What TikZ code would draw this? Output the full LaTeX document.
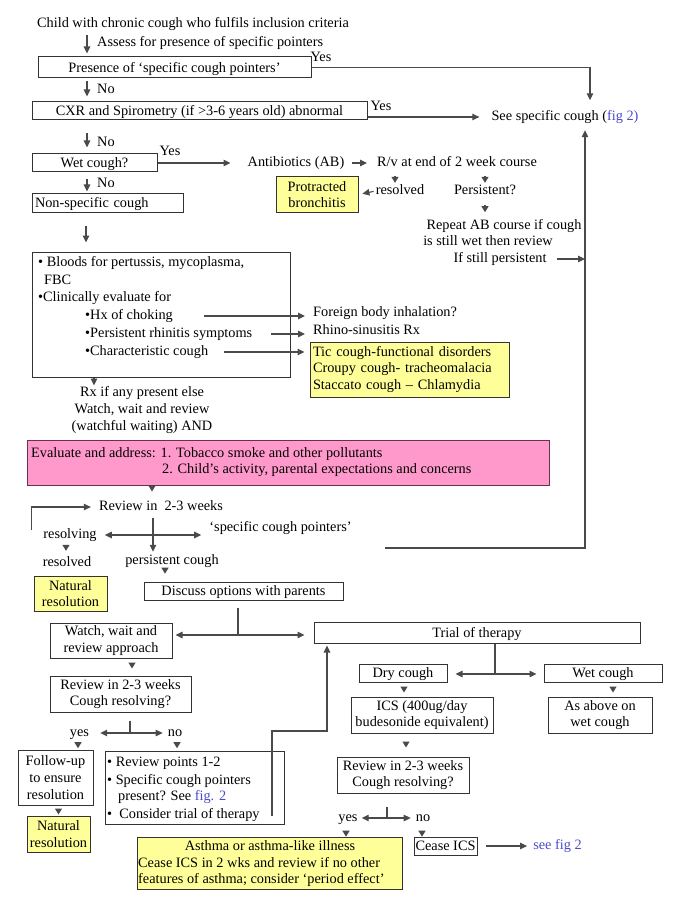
\documentclass[tikz,border=0pt]{standalone}
\usepackage{fontspec}
\setmainfont{Liberation Serif}
\usetikzlibrary{arrows.meta}
\definecolor{linec}{HTML}{4A4A4A}
\definecolor{boxc}{HTML}{333333}
\definecolor{yelc}{HTML}{FFFF99}
\definecolor{pinkc}{HTML}{FF99CC}
\definecolor{pinkb}{HTML}{6A3050}
\definecolor{bluec}{HTML}{4A4ACC}
\begin{document}
\begin{tikzpicture}[x=1pt,y=-1pt,
  font=\fontsize{14.3}{16.6}\selectfont,
  txt/.style={inner sep=0pt,text height=10pt,text depth=3pt},
  mtxt/.style={inner sep=0pt,align=center},
  bx/.style={draw=boxc,line width=1pt,inner sep=0pt,align=center},
  sbx/.style={bx,text height=11.5pt,text depth=2pt},
  ybx/.style={bx,fill=yelc},
  arr/.style={draw=linec,line width=1.1pt,-{Triangle[length=7pt,width=6.5pt]}},
  dbl/.style={draw=linec,line width=1.1pt,{Triangle[length=7pt,width=6.5pt]}-{Triangle[length=7pt,width=6.5pt]}},
  plainln/.style={draw=linec,line width=1.1pt},
  arrowtri/.style={draw=linec,line width=1.1pt,-{Triangle[length=6pt,width=7pt]}},
]
\useasboundingbox (0,0) rectangle (685,912);
\fill[white] (0,0) rectangle (685,912);

% ---------- top part ----------
\node[txt] (child) at (193,24) {Child with chronic cough who fulfils inclusion criteria};
\coordinate (colA) at (87,0);
\node[txt,anchor=west] (assess) at (97,43) {Assess for presence of specific pointers};
\node[sbx,minimum width=273,minimum height=21] (pres) at (174.5,67.5) {Presence of ‘specific cough pointers’};
\node[txt] (yes1) at (321,58) {Yes};
\node[txt,anchor=west] (no1) at (97,90) {No};
\node[sbx,minimum width=335,minimum height=18] (cxr) at (199.5,111) {CXR and Spirometry (if >3-6 years old) abnormal};
\node[txt] (yes2) at (381,107) {Yes};
\node[txt] (see) at (565,117) {See specific cough (\textcolor{bluec}{fig 2)}};
\node[txt,anchor=west] (no2) at (97,143) {No};
\node[sbx,minimum width=125,minimum height=18] (wet) at (94.5,163) {Wet cough?};
\node[txt] (yes3) at (170,152) {Yes};
\node[txt,anchor=west] (no3) at (97,184) {No};
\node[sbx,minimum width=151,minimum height=19,text width=145,align=left,inner xsep=3pt] (ns) at (107.5,202.5) {Non-specific cough};

\node[txt] (ab) at (296,163) {Antibiotics (AB)};
\node[txt,anchor=west] (rv) at (377,163) {R/v at end of 2 week course};
\node[ybx,minimum width=82,minimum height=35] (prot) at (317,194.5) {Protracted\\bronchitis};
\node[txt] (resd) at (400,191) {resolved};
\node[txt] (pers) at (485,191) {Persistent?};
\node[txt] (rep1) at (504,226) {Repeat AB course if cough};
\node[txt] (rep2) at (488,242) {is still wet then review};
\node[txt] (rep3) at (500,259) {If still persistent};

% ---------- bloods ----------
\node[bx,minimum width=258,minimum height=125] (bl) at (161,314.5) {};
\node[txt,anchor=west] (b1) at (38,263) {• Bloods for pertussis, mycoplasma,};
\node[txt,anchor=west] (b2) at (44,281) {FBC};
\node[txt,anchor=west] (b3) at (38,298) {•Clinically evaluate for};
\node[txt,anchor=west] (hx) at (85,316) {•Hx of choking};
\node[txt,anchor=west] (rh) at (85,334) {•Persistent rhinitis symptoms};
\node[txt,anchor=west] (cc) at (85,352) {•Characteristic cough};
\node[txt,anchor=west] (fb) at (313,313) {Foreign body inhalation?};
\node[txt,anchor=west] (rs) at (313,331) {Rhino-sinusitis Rx};
\node[ybx,minimum width=199,minimum height=55,text width=193,align=left,inner xsep=3pt] (tic) at (409.5,369.5) {Tic cough-functional disorders\\Croupy cough- tracheomalacia\\Staccato cough – Chlamydia};
\node[mtxt] (rx) at (142,410) {Rx if any present else\\Watch, wait and review\\(watchful waiting) AND};

% ---------- pink ----------
\node[bx,draw=pinkb,fill=pinkc,minimum width=522,minimum height=45] (pink) at (288,462.5) {};
\node[txt,anchor=west] (ev1) at (31,454) {Evaluate and address: 1. Tobacco smoke and other pollutants};
\node[txt,anchor=west] (ev2) at (162,470) {2. Child’s activity, parental expectations and concerns};

% ---------- review ----------
\node[txt] (rev) at (161,507) {Review in\ \ 2-3 weeks};
\node[txt] (resg) at (70,535) {resolving};
\node[txt] (spc) at (280.5,528) {‘specific cough pointers’};
\node[txt] (resd2) at (67,563) {resolved};
\node[txt] (pc) at (172,561) {persistent cough};
\node[ybx,minimum width=73,minimum height=35] (nat1) at (70.5,593.5) {Natural\\resolution};
\node[sbx,minimum width=199,minimum height=18] (disc) at (243.5,591) {Discuss options with parents};
\node[bx,minimum width=122,minimum height=35] (watch) at (111,640.5) {Watch, wait and\\review approach};
\node[sbx,minimum width=326,minimum height=21] (trial) at (477,632.5) {Trial of therapy};
\node[bx,minimum width=141,minimum height=36] (revL) at (120.5,694) {Review in 2-3 weeks\\Cough resolving?};
\node[txt] (yesL) at (79.5,733) {yes};
\node[txt] (noL) at (175,733) {no};
\node[bx,minimum width=75,minimum height=55] (fu) at (55.5,777.5) {Follow-up\\to ensure\\resolution};
\node[ybx,minimum width=63,minimum height=36] (nat2) at (58.5,834) {Natural\\resolution};
\node[bx,minimum width=179,minimum height=73] (rp) at (194.5,787.5) {};
\node[txt,anchor=west] (rp1) at (107,763) {• Review points 1-2};
\node[txt,anchor=west] (rp2) at (107,781) {• Specific cough pointers};
\node[txt,anchor=west] (rp3) at (118,797) {present? See \textcolor{bluec}{fig. 2}};
\node[txt,anchor=west] (rp4) at (107,815) {•\ \ Consider trial of therapy};

\node[sbx,minimum width=88,minimum height=18] (dry) at (403,673) {Dry cough};
\node[sbx,minimum width=118,minimum height=18] (wet2) at (603,673) {Wet cough};
\node[bx,minimum width=142,minimum height=36] (ics) at (422,715) {ICS (400ug/day\\budesonide equivalent)};
\node[bx,minimum width=104,minimum height=36] (asab) at (600,715) {As above on\\wet cough};
\node[bx,minimum width=132,minimum height=36] (revR) at (403,775) {Review in 2-3 weeks\\Cough resolving?};
\node[txt] (yesR) at (348,818) {yes};
\node[txt] (noR) at (423,818) {no};
\node[ybx,minimum width=265,minimum height=52] (asth) at (269.5,863) {};
\node[txt] (as1) at (270,847) {Asthma or asthma-like illness};
\node[txt,anchor=west] (as2) at (138,864) {Cease ICS in 2 wks and review if no other};
\node[txt,anchor=west] (as3) at (138,880) {features of asthma; consider ‘period effect’};
\node[sbx,minimum width=63,minimum height=18] (cease) at (445.5,846) {Cease ICS};
\node[txt,text=bluec] (sf2) at (557.5,846) {see fig 2};

% ---------- connectors ----------
\draw[arr,shorten <=4.5pt,shorten >=3pt] (child.south -| colA) -- (pres.north -| colA);
\draw[arr,shorten <=3pt,shorten >=5pt] (pres.south -| colA) -- (cxr.north -| colA);
\draw[arr,shorten <=13pt,shorten >=6pt] (cxr.south -| colA) -- (wet.north -| colA);
\draw[arr,shorten <=7pt,shorten >=1pt] (wet.south -| colA) -- (ns.north -| colA);
\coordinate (vtop) at ([xshift=25pt]see.north);
\draw[arr,shorten >=10pt] (pres.east) -| (vtop);
\draw[arr,shorten >=12pt] (cxr.east |- see.west) -- (see.west);
\draw[arr,shorten >=17pt] (wet.east) -- (ab.west);
\draw[arr,shorten <=8pt,shorten >=10pt] (ab.east) -- (rv.west);
\draw[arr,shorten <=2pt,shorten >=4pt] (resd.west) -- (prot.east);
\draw[arrowtri] (resd.north) ++(-5,-8.5) -- ++(0,7);
\draw[arrowtri] (pers.north) ++(0,-8.5) -- ++(0,7);
\draw[arrowtri] (pers.south) ++(0,7.5) -- ++(0,7);
\coordinate (vl) at ([xshift=20pt]see.south);
\draw[arr,shorten >=6.5pt] (spc.east) ++(33,20) -| (vl);
\draw[arr,shorten <=10pt] (rep3.east) -- (rep3.east -| vl);

\coordinate (colB) at (86,0);
\draw[arr,shorten <=13pt,shorten >=9pt] (ns.south -| colB) -- (bl.north -| colB);
\draw[arr,shorten <=31pt,shorten >=8pt] (hx.east) -- (hx.east -| fb.west);
\draw[arr,shorten <=19pt,shorten >=8pt] (rh.east) -- (rh.east -| rs.west);
\draw[arr,shorten <=16pt,shorten >=5pt] (cc.east) -- (cc.east -| tic.west);
\coordinate (colC) at (94,0);
\draw[arr] (bl.south -| colC) -- ++(0,8);
\coordinate (colD) at (152,0);
\draw[arrowtri] (pink.south -| colD) -- ++(0,6);

\draw[arr,shorten >=8pt] (resg.west) ++(-12,-5) |- (rev.west);
\coordinate (colE) at (153,0);
\draw[arr,shorten <=4.5pt,shorten >=2.5pt] (rev.south -| colE) -- (pc.north -| colE);
\draw[dbl,shorten <=8pt,shorten >=8pt] (resg.east) -- (resg.east -| spc.west);
\draw[arrowtri] (resd2.north) ++(-1,-11.5) -- ++(0,6);
\draw[arrowtri] (pc.south) ++(-7,0) -- ++(0,6);
\coordinate (jn) at (238,635);
\draw[plainln,shorten <=7pt] (disc.south -| jn) -- (jn);
\draw[dbl,shorten <=3pt,shorten >=9pt] (watch.east |- jn) -- (trial.west |- jn);
\coordinate (jt) at (495,674);
\draw[plainln] (trial.south -| jt) -- (jt);
\draw[dbl,shorten <=8pt,shorten >=7pt] (dry.east |- jt) -- (wet2.west |- jt);
\draw[arrowtri] (watch.south) ++(21,4) -- ++(0,6);
\coordinate (jl) at (130,733);
\draw[plainln,shorten <=8pt] (revL.south -| jl) -- (jl);
\draw[dbl,shorten <=11pt,shorten >=5pt] (yesL.east) -- (noL.west);
\draw[arrowtri] (yesL.south) ++(-1.5,2.5) -- ++(0,6);
\draw[arrowtri] (noL.south) ++(2,2.5) -- ++(0,6);
\draw[arrowtri] (fu.south) ++(3,3) -- ++(0,6);
\coordinate (jp) at (327,731);
\draw[arr,shorten >=2pt] (rp.south) ++(77.5,-9) |- (jp) -- (trial.south -| jp);
\draw[arrowtri] (dry.south) ++(1,4) -- ++(0,6);
\draw[arrowtri] (wet2.south) ++(10,4) -- ++(0,6);
\draw[arrowtri] (ics.south) ++(-16,8) -- ++(0,6);
\coordinate (jr) at (387,817);
\draw[plainln,shorten <=13pt] (revR.south -| jr) -- (jr);
\draw[dbl,shorten <=4pt,shorten >=5pt] (yesR.east) -- (noR.west);
\draw[arrowtri] (yesR.south) ++(-2,6) -- ++(0,6);
\draw[arrowtri] (noR.south) ++(-1,6) -- ++(0,6);
\draw[arr,shorten <=8pt,shorten >=6pt] (cease.east) -- (cease.east -| sf2.west);
\end{tikzpicture}
\end{document}
